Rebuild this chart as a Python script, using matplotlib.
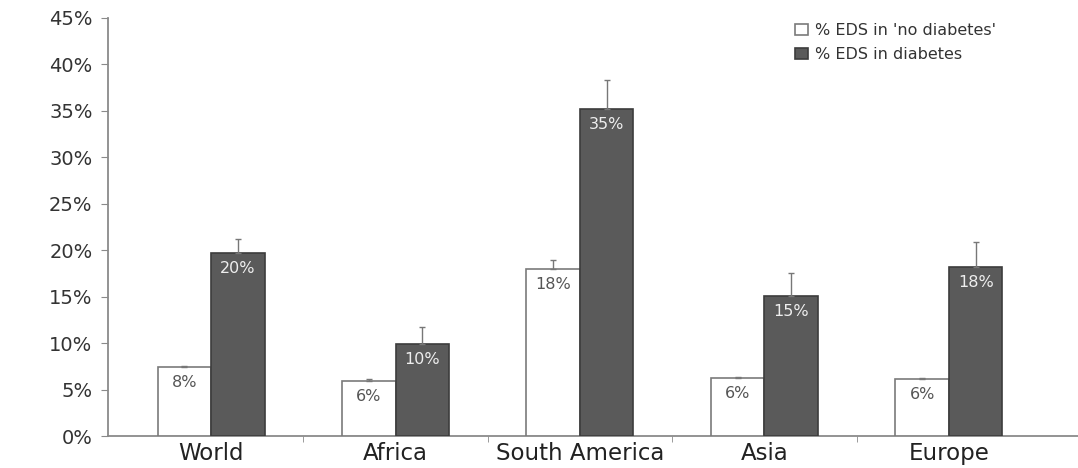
import numpy as np
import matplotlib
matplotlib.use('Agg')
import matplotlib.pyplot as plt

# values (percent)
regions = ['World', 'Africa', 'South America', 'Asia', 'Europe']
no_diab = [7.4, 5.9, 18.0, 6.25, 6.1]
no_diab_err = [0.2, 0.2, 0.9, 0.15, 0.2]
diab = [19.7, 9.9, 35.2, 15.1, 18.2]
diab_err = [1.5, 1.8, 3.1, 2.4, 2.7]
no_diab_labels = ['8%', '6%', '18%', '6%', '6%']
diab_labels = ['20%', '10%', '35%', '15%', '18%']
yticks = [0, 5, 10, 15, 20, 25, 30, 35, 40, 45]

fig = plt.figure(figsize=(10.78, 4.68), dpi=100)
ax = fig.add_axes([0.1, 0.068, 0.9, 0.894])

x = np.arange(len(regions))
w = 0.29
axcol = '#8a8a8a'

ax.bar(x - w/2, no_diab, w, color='white', edgecolor='#7a7a7a', linewidth=1.2,
       yerr=[np.zeros(len(x)), no_diab_err], error_kw=dict(ecolor='#777777', elinewidth=1, capsize=2, capthick=1),
       label="% EDS in 'no diabetes'", zorder=3)
ax.bar(x + w/2, diab, w, color='#5a5a5a', edgecolor='#3c3c3c', linewidth=1.2,
       yerr=[np.zeros(len(x)), diab_err], error_kw=dict(ecolor='#777777', elinewidth=1, capsize=2, capthick=1),
       label='% EDS in diabetes', zorder=3)

for i in range(len(x)):
	ax.annotate(no_diab_labels[i], (x[i] - w/2, no_diab[i]), xytext=(0, -11), textcoords='offset points',
	            ha='center', va='center', fontsize=11.5, color='#555555', zorder=4)
	ax.annotate(diab_labels[i], (x[i] + w/2, diab[i]), xytext=(0, -11), textcoords='offset points',
	            ha='center', va='center', fontsize=11.5, color='#eeeeee', zorder=4)

ax.set_xlim(-0.56, 4.70)
ax.set_ylim(0, 45)
ax.set_yticks(yticks)
ax.set_yticklabels(['%d%%' % t for t in yticks], fontsize=14, color='#333333')
ax.set_xticks(x)
ax.set_xticklabels(regions, fontsize=16.5, color='#222222')
ax.set_xticks(x[:-1] + 0.5, minor=True)
ax.tick_params(axis='x', which='major', length=0, pad=4)
ax.tick_params(axis='x', which='minor', length=4, color=axcol)
ax.tick_params(axis='y', length=5, color=axcol, pad=6)

for s in ['top', 'right']:
	ax.spines[s].set_visible(False)
ax.spines['left'].set_color(axcol)
ax.spines['bottom'].set_color(axcol)
ax.spines['left'].set_linewidth(1.3)
ax.spines['bottom'].set_linewidth(1.3)

fig.legend(loc='upper left', bbox_to_anchor=(0.732, 0.965), frameon=False, fontsize=11.5,
           handlelength=0.8, handleheight=0.7, handletextpad=0.4, labelspacing=0.6, borderaxespad=0,
           labelcolor='#333333')

fig.savefig('out.png', dpi=100)
